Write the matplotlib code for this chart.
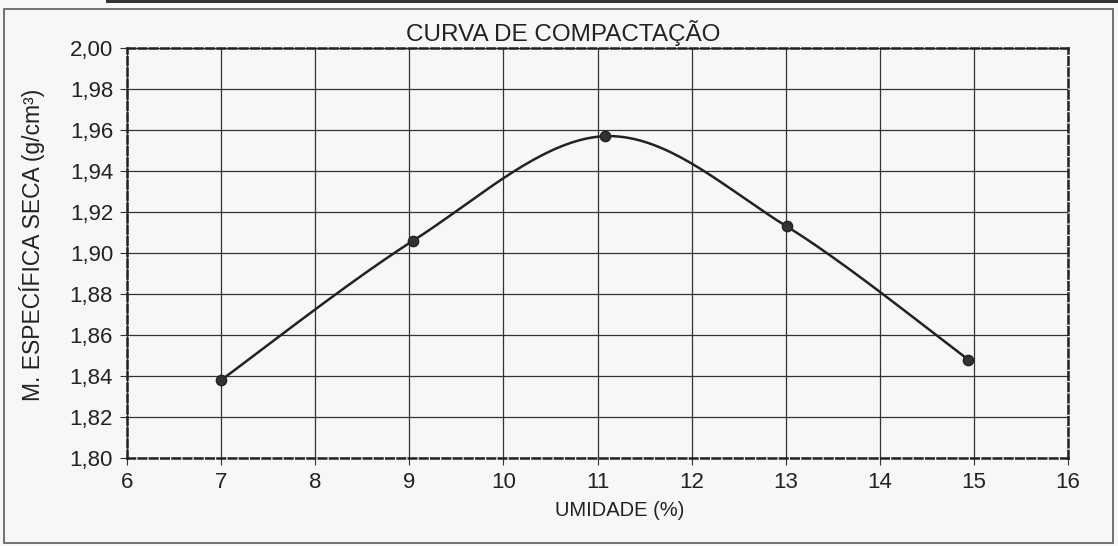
import numpy as np
import matplotlib.pyplot as plt
from matplotlib.patches import Rectangle

# dados
umidade = [7.0, 9.04, 11.08, 13.01, 14.94]
massa_seca = [1.838, 1.906, 1.957, 1.913, 1.848]
x_ticks = [6, 7, 8, 9, 10, 11, 12, 13, 14, 15, 16]
y_ticks = [1.80, 1.82, 1.84, 1.86, 1.88, 1.90, 1.92, 1.94, 1.96, 1.98, 2.00]

plt.rcParams['font.family'] = ['Liberation Sans', 'DejaVu Sans']


def suaviza(xs, ys, n=40):
    # curva suavizada estilo planilha (bezier com pontos vizinhos)
    p = np.column_stack([xs, ys])
    pts = np.vstack([p[0], p, p[-1]])
    out = []
    for i in range(1, len(pts) - 2):
        p0, p1, p2, p3 = pts[i - 1], pts[i], pts[i + 1], pts[i + 2]
        c1 = p1 + (p2 - p0) / 6
        c2 = p2 - (p3 - p1) / 6
        t = np.linspace(0, 1, n)[:, None]
        seg = ((1 - t) ** 3 * p1 + 3 * (1 - t) ** 2 * t * c1
               + 3 * (1 - t) * t ** 2 * c2 + t ** 3 * p2)
        out.append(seg)
    c = np.vstack(out)
    return c[:, 0], c[:, 1]


fig = plt.figure(figsize=(11.18, 5.46), dpi=100)
fig.patch.set_facecolor('#f6f7f9')
# moldura externa e faixa escura do topo (digitalizacao)
fig.add_artist(Rectangle((0.0035, 0.0055), 0.992, 0.9775, transform=fig.transFigure,
                         fill=False, edgecolor='#666666', lw=1.3))
fig.add_artist(Rectangle((0.095, 0.994), 0.905, 0.006, transform=fig.transFigure,
                         facecolor='#333333', edgecolor='none'))

ax = fig.add_axes([0.1136, 0.1612, 0.8417, 0.7508])
ax.set_facecolor('#f6f7f9')

cx, cy = suaviza(umidade, massa_seca)
ax.plot(cx, cy, color='#222222', lw=1.8, zorder=3)
ax.scatter(umidade, massa_seca, s=55, color='#333333', edgecolor='#222222', zorder=4)

ax.set_xlim(6, 16)
ax.set_ylim(1.80, 2.00)
ax.set_xticks(x_ticks)
ax.set_yticks(y_ticks)
ax.set_yticklabels([f'{v:.2f}'.replace('.', ',') for v in y_ticks])
ax.grid(True, color='#333333', lw=0.9)
ax.tick_params(labelsize=16, length=5, color='#333333', labelcolor='#222222', pad=5)
for s in ax.spines.values():
    s.set_linestyle((0, (3, 1.5)))
    s.set_linewidth(1.8)
    s.set_color('#222222')

ax.set_xlabel('UMIDADE (%)', fontsize=14.5, color='#222222', labelpad=7)
ax.xaxis.set_label_coords(0.524, -0.105)
ax.set_ylabel('M. ESPECÍFICA SECA (g/cm³)', fontsize=16.5, color='#222222')
ax.yaxis.set_label_coords(-0.087, 0.52)
ax.text(0.463, 1.005, 'CURVA DE COMPACTAÇÃO', transform=ax.transAxes, ha='center',
        va='bottom', fontsize=17.5, color='#222222')

fig.savefig('out.png', dpi=100, facecolor=fig.get_facecolor())
